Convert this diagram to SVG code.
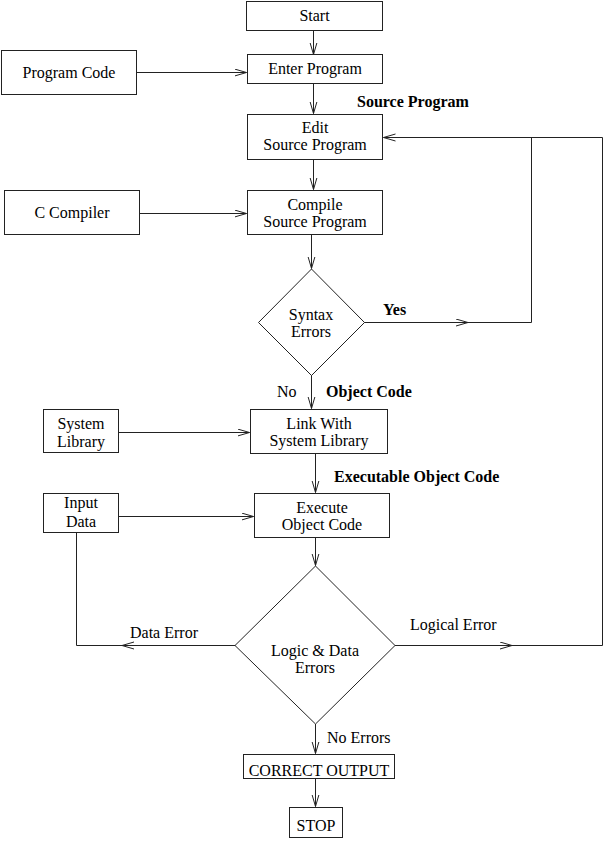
<svg xmlns="http://www.w3.org/2000/svg" width="605" height="842" viewBox="0 0 605 842" font-family="'Liberation Serif', 'Times New Roman', Times, 'DejaVu Serif', serif" font-size="16">
  <style>
    .box { fill: #fff; stroke: #222; stroke-width: 1; }
    .ln { fill: none; stroke: #222; stroke-width: 1; }
    text { font-family: "Liberation Serif", "Times New Roman", Times, "DejaVu Serif", serif; font-size: 16px; fill: #000; }
    .c { text-anchor: middle; }
    .b { font-weight: bold; }
  </style>
  <defs>
    <marker id="arr" markerUnits="userSpaceOnUse" markerWidth="14" markerHeight="10" refX="12" refY="4" orient="auto">
      <path d="M0,0.5 L12,4 L0,7.5" fill="none" stroke="#222" stroke-width="1"/>
    </marker>
  </defs>
  <rect width="605" height="842" fill="#fff"/>

  <!-- connectors -->
  <g id="connectors">
    <line class="ln" x1="313.5" y1="31" x2="313.5" y2="54.5" marker-end="url(#arr)"/>
    <line class="ln" x1="137" y1="72.5" x2="246.5" y2="72.5" marker-end="url(#arr)"/>
    <line class="ln" x1="313.5" y1="84" x2="313.5" y2="113.5" marker-end="url(#arr)"/>
    <line class="ln" x1="313.5" y1="160" x2="313.5" y2="189.5" marker-end="url(#arr)"/>
    <line class="ln" x1="140" y1="213.5" x2="246.5" y2="213.5" marker-end="url(#arr)"/>
    <line class="ln" x1="311.5" y1="235" x2="311.5" y2="268.5" marker-end="url(#arr)"/>
    <!-- Yes branch back to edit -->
    <line class="ln" x1="364" y1="322.5" x2="468" y2="322.5" marker-end="url(#arr)"/>
    <polyline class="ln" points="468,322.5 531.5,322.5 531.5,137.5"/>
    <line class="ln" x1="602.5" y1="137.5" x2="383.5" y2="137.5" marker-end="url(#arr)"/>
    <!-- No branch -->
    <line class="ln" x1="311.5" y1="375" x2="311.5" y2="408.5" marker-end="url(#arr)"/>
    <line class="ln" x1="118" y1="432.5" x2="249.5" y2="432.5" marker-end="url(#arr)"/>
    <line class="ln" x1="315.5" y1="454" x2="315.5" y2="492.5" marker-end="url(#arr)"/>
    <line class="ln" x1="118" y1="516.5" x2="253.5" y2="516.5" marker-end="url(#arr)"/>
    <line class="ln" x1="315.5" y1="538" x2="315.5" y2="565.5" marker-end="url(#arr)"/>
    <!-- Data error loop -->
    <line class="ln" x1="235" y1="645.5" x2="122" y2="645.5" marker-end="url(#arr)"/>
    <polyline class="ln" points="122,645.5 76.5,645.5 76.5,533"/>
    <!-- Logical error loop -->
    <line class="ln" x1="395" y1="645.5" x2="512" y2="645.5" marker-end="url(#arr)"/>
    <polyline class="ln" points="512,645.5 602.5,645.5 602.5,137.5"/>
    <!-- No errors -->
    <line class="ln" x1="315.5" y1="724" x2="315.5" y2="753.5" marker-end="url(#arr)"/>
    <line class="ln" x1="315.5" y1="779" x2="315.5" y2="806.5" marker-end="url(#arr)"/>
  </g>

  <!-- connector labels -->
  <g id="labels">
    <text class="b" x="357" y="107">Source Program</text>
    <text class="b" x="383" y="315">Yes</text>
    <text x="277" y="397">No</text>
    <text class="b" x="326" y="397">Object Code</text>
    <text class="b" x="334" y="482">Executable Object Code</text>
    <text x="130" y="638">Data Error</text>
    <text x="410" y="630">Logical Error</text>
    <text x="327" y="743">No Errors</text>
  </g>

  <g id="start">
    <rect class="box" x="246.5" y="1.5" width="136" height="29"/>
    <text class="c" x="314.5" y="21">Start</text>
  </g>
  <g id="program-code">
    <rect class="box" x="1.5" y="50.5" width="135" height="44"/>
    <text class="c" x="69" y="78">Program Code</text>
  </g>
  <g id="enter-program">
    <rect class="box" x="247.5" y="54.5" width="135" height="29"/>
    <text class="c" x="315" y="74">Enter Program</text>
  </g>
  <g id="edit-source">
    <rect class="box" x="247.5" y="114.5" width="135" height="45"/>
    <text class="c" x="315" y="133">Edit</text>
    <text class="c" x="315" y="150">Source Program</text>
  </g>
  <g id="c-compiler">
    <rect class="box" x="4.5" y="190.5" width="135" height="44"/>
    <text class="c" x="72" y="218">C Compiler</text>
  </g>
  <g id="compile-source">
    <rect class="box" x="247.5" y="190.5" width="135" height="44"/>
    <text class="c" x="315" y="210">Compile</text>
    <text class="c" x="315" y="227">Source Program</text>
  </g>
  <g id="syntax-errors">
    <polygon class="box" points="311.5,269 364.5,322.5 311.5,375.5 258.5,322.5"/>
    <text class="c" x="311" y="320">Syntax</text>
    <text class="c" x="311" y="337">Errors</text>
  </g>
  <g id="system-library">
    <rect class="box" x="43.5" y="409.5" width="75" height="43"/>
    <text class="c" x="81" y="429">System</text>
    <text class="c" x="81" y="447">Library</text>
  </g>
  <g id="link-library">
    <rect class="box" x="250.5" y="409.5" width="137" height="44"/>
    <text class="c" x="319" y="429">Link With</text>
    <text class="c" x="319" y="446">System Library</text>
  </g>
  <g id="input-data">
    <rect class="box" x="43.5" y="493.5" width="75" height="39"/>
    <text class="c" x="81" y="508">Input</text>
    <text class="c" x="81" y="527">Data</text>
  </g>
  <g id="execute-object">
    <rect class="box" x="254.5" y="493.5" width="135" height="44"/>
    <text class="c" x="322" y="513">Execute</text>
    <text class="c" x="322" y="530">Object Code</text>
  </g>
  <g id="logic-data-errors">
    <polygon class="box" points="315.5,566 395,645.5 315.5,724 235,645.5"/>
    <text class="c" x="315" y="656">Logic &amp; Data</text>
    <text class="c" x="315" y="673">Errors</text>
  </g>
  <g id="correct-output">
    <rect class="box" x="243.5" y="754.5" width="151" height="24"/>
    <text class="c" x="319" y="776">CORRECT OUTPUT</text>
  </g>
  <g id="stop">
    <rect class="box" x="289.5" y="807.5" width="53" height="30"/>
    <text class="c" x="316" y="831">STOP</text>
  </g>
</svg>
